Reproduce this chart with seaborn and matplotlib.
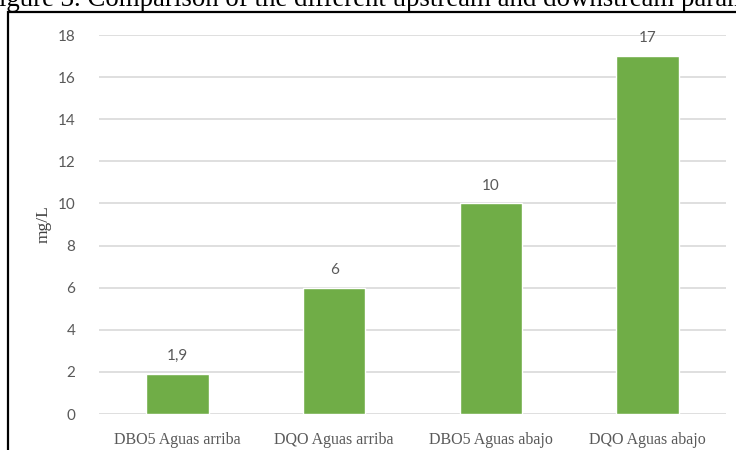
import matplotlib
matplotlib.use("Agg")
import matplotlib.pyplot as plt
import seaborn as sns
import pandas as pd
from matplotlib.patches import Rectangle

# Data
categories = ["DBO5 Aguas arriba", "DQO Aguas arriba", "DBO5 Aguas abajo", "DQO Aguas abajo"]
values = [1.9, 6, 10, 17]
value_labels = ["1,9", "6", "10", "17"]
y_ticks = [0, 2, 4, 6, 8, 10, 12, 14, 16, 18]

df = pd.DataFrame({"parametro": categories, "valor": values})

sns.set_theme(style="white")
plt.rcParams["font.family"] = ["Lato", "DejaVu Sans"]

W, H = 736, 450
fig = plt.figure(figsize=(W / 100, H / 100), dpi=100)
ax = fig.add_axes([99 / W, 1 - 414 / H, (726 - 99) / W, (414 - 35) / H])

bar_color = "#70AD47"
sns.barplot(data=df, x="parametro", y="valor", color=bar_color, width=0.40,
            saturation=1, ax=ax, zorder=3)

ax.set_ylim(0, 18)
ax.set_xlim(-0.5, 3.5)
ax.set_yticks(y_ticks)
ax.set_yticklabels([str(t) for t in y_ticks], fontsize=11, color="#595959")
ax.tick_params(axis="y", length=0, pad=17)
ax.tick_params(axis="x", length=0, pad=13)
for lbl in ax.get_xticklabels():
    lbl.set_fontfamily("Liberation Serif")
    lbl.set_fontsize(11.5)
    lbl.set_color("#595959")

ax.yaxis.grid(True, color="#D9D9D9", linewidth=1.2, zorder=0)
ax.set_axisbelow(True)
for s in ax.spines.values():
    s.set_visible(False)
ax.set_xlabel("")
ax.set_ylabel("")

# Value labels above each bar
for i, (v, txt) in enumerate(zip(values, value_labels)):
    ax.annotate(txt, (i, v), xytext=(0, 10), textcoords="offset points",
                ha="center", va="baseline", fontsize=11, color="#595959", zorder=4)

# Axis title
fig.text(44 / W, 1 - 224 / H, "mg/L", rotation=90, ha="center", va="center",
         fontfamily="Liberation Serif", fontsize=12.5, color="#404040")

# Chart frame
fig.patches.append(Rectangle((8 / W, -0.1), 1.2, 1 - 12 / H + 0.1,
                             transform=fig.transFigure, fill=False,
                             edgecolor="black", linewidth=1.6))

# Figure caption above the frame
fig.text(-16 / W, 1 - 6 / H,
         "Figure 3. Comparison of the different upstream and downstream parameters.",
         ha="left", va="baseline", fontfamily="Liberation Serif", fontsize=19.4,
         color="black")

fig.savefig("out.png", dpi=100)
